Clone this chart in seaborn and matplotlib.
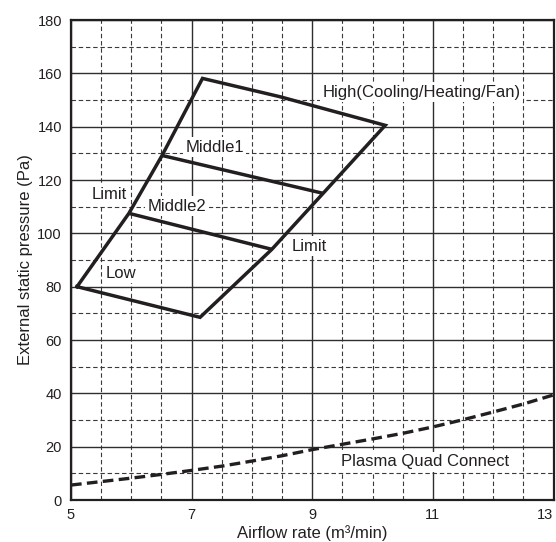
import matplotlib
matplotlib.use("Agg")
import matplotlib.pyplot as plt
from matplotlib.ticker import MultipleLocator
import seaborn as sns
import pandas as pd

# ---- data ----
left_limit_x = [5.10, 5.96, 6.51, 7.18]
left_limit_y = [80.0, 107.5, 129.2, 158.1]
high_x = [7.18, 8.47, 10.21]
high_y = [158.1, 151.2, 140.5]
right_limit_x = [7.14, 8.33, 9.18, 10.21]
right_limit_y = [68.5, 94.0, 115.0, 140.5]
middle1_x = [6.51, 9.18]
middle1_y = [129.2, 115.0]
middle2_x = [5.96, 8.33]
middle2_y = [107.5, 94.0]
low_x = [5.10, 7.14]
low_y = [80.0, 68.5]
plasma_x = [5.0, 5.5, 6.0, 6.5, 7.0, 7.5, 8.0, 8.5, 9.0, 9.5, 10.0, 10.5, 11.0, 11.5, 12.0, 12.5, 13.0]
plasma_y = [5.6, 6.9, 8.2, 9.6, 11.1, 12.7, 14.6, 16.6, 18.9, 20.9, 22.9, 25.0, 27.4, 30.1, 33.0, 36.0, 39.4]

x_ticks = [5, 7, 9, 11, 13]
y_ticks = [0, 20, 40, 60, 80, 100, 120, 140, 160, 180]

labels = [
    ("High(Cooling/Heating/Fan)", 9.17, 152.9, "left"),
    ("Middle1", 7.38, 132.2, "center"),
    ("Limit", 5.64, 114.4, "center"),
    ("Middle2", 6.76, 110.2, "center"),
    ("Limit", 8.95, 95.2, "center"),
    ("Low", 5.83, 85.0, "center"),
    ("Plasma Quad Connect", 10.87, 14.4, "center"),
]

# ---- style ----
sns.set_style("white")
plt.rcParams["font.family"] = ["Liberation Sans", "DejaVu Sans"]
ink = "#231f20"

fig = plt.figure(figsize=(5.56, 5.42), dpi=100)
ax = fig.add_axes([71 / 556, 1 - 500 / 542, (553.5 - 71) / 556, 480 / 542])

# outline polygon built from boundary arrays
outline = pd.DataFrame({
    "x": left_limit_x + high_x[1:] + right_limit_x[::-1][1:] + [low_x[0]],
    "y": left_limit_y + high_y[1:] + right_limit_y[::-1][1:] + [low_y[0]],
})

lw = 2.5
sns.lineplot(data=outline, x="x", y="y", sort=False, estimator=None, ax=ax,
             color=ink, lw=lw, zorder=4, solid_joinstyle="miter",
             solid_capstyle="projecting")
for xs, ys in [(middle1_x, middle1_y), (middle2_x, middle2_y)]:
    sns.lineplot(x=xs, y=ys, sort=False, estimator=None, ax=ax, color=ink,
                 lw=lw, zorder=4, solid_capstyle="butt")

sns.lineplot(x=plasma_x, y=plasma_y, sort=False, estimator=None, ax=ax,
             color=ink, lw=2.4, zorder=4)
ax.lines[-1].set_dashes((3.2, 1.6))

for txt, x, y, ha in labels:
    ax.text(x, y, txt, ha=ha, va="center", fontsize=12, color=ink, zorder=3,
            bbox=dict(boxstyle="square,pad=0.15", fc="white", ec="none"))

ax.set_xlim(5, 13)
ax.set_ylim(0, 180)
ax.set_xticks(x_ticks)
ax.set_yticks(y_ticks)
ax.xaxis.set_minor_locator(MultipleLocator(0.5))
ax.yaxis.set_minor_locator(MultipleLocator(10))
ax.set_axisbelow(True)
ax.grid(which="major", color="#2e2e2e", lw=1.0, ls="-")
ax.grid(which="minor", color="#3a3a3a", lw=0.8, ls=(0, (4, 2.5)))
ax.tick_params(which="both", length=0, labelsize=10.5, colors=ink)
ax.tick_params(axis="x", pad=6)
ax.tick_params(axis="y", pad=6.5)
fig.canvas.draw()
ax.get_xticklabels()[-1].set_horizontalalignment("right")
for s in ax.spines.values():
    s.set_color(ink)
    s.set_linewidth(1.6)
    s.set_zorder(5)

ax.set_xlabel("Airflow rate (m³/min)", fontsize=12, color=ink, labelpad=2)
ax.set_ylabel("External static pressure (Pa)", fontsize=12, color=ink, labelpad=3)

fig.savefig("out.png", dpi=100)
